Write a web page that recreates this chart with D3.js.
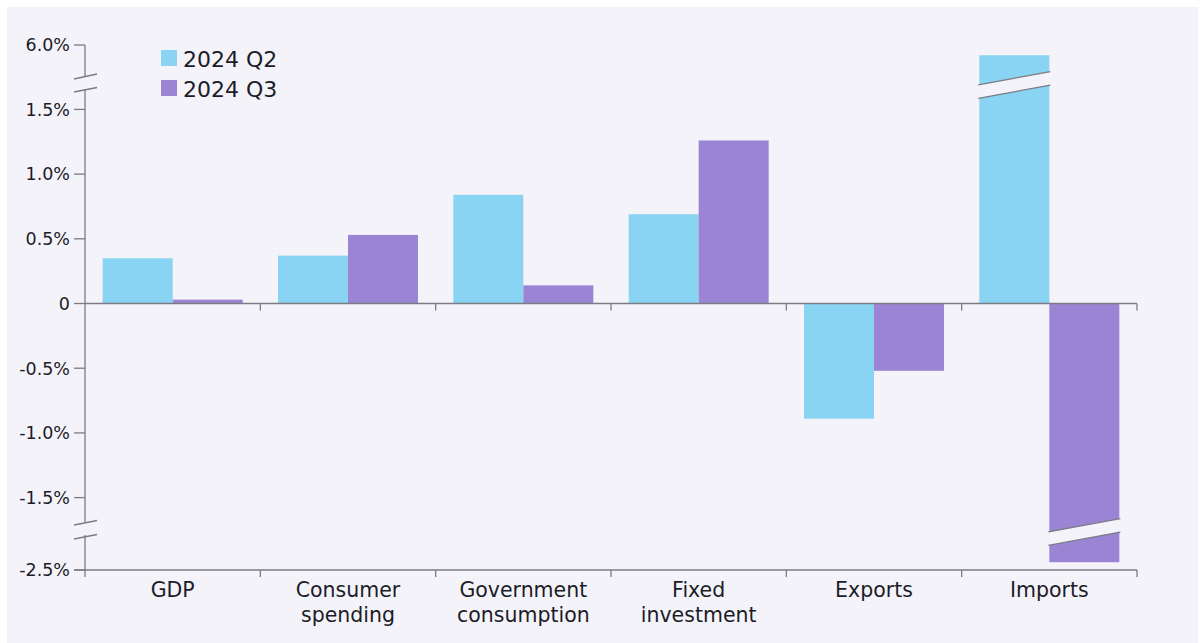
<!DOCTYPE html>
<html>
<head>
<meta charset="utf-8">
<script src="https://cdn.jsdelivr.net/npm/d3@7"></script>
<style>
  html, body { margin: 0; padding: 0; background: #ffffff; }
  svg { display: block; }
  text { font-family: "DejaVu Sans", "Noto Sans", sans-serif; fill: #1c1c28; }
</style>
</head>
<body>
<svg id="chart" width="1204" height="643"></svg>
<script>
// Quarterly change by expenditure component (%)
const categories = [["GDP"], ["Consumer", "spending"], ["Government", "consumption"], ["Fixed", "investment"], ["Exports"], ["Imports"]];
const seriesNames = ["2024 Q2", "2024 Q3"];
const q2Values = [0.35, 0.37, 0.84, 0.69, -0.89, 5.92];
const q3Values = [0.03, 0.53, 0.14, 1.26, -0.52, -2.44];
const tickValues = [6.0, 1.5, 1.0, 0.5, 0, -0.5, -1.0, -1.5, -2.5];
const tickLabels = ["6.0%", "1.5%", "1.0%", "0.5%", "0", "-0.5%", "-1.0%", "-1.5%", "-2.5%"];
const colors = ["#89d4f2", "#9b84d4"];

const svg = d3.select("#chart");
const W = 1204, H = 643;
const bg = "#f4f3f9";
const axisColor = "#7b7b84";

svg.append("rect").attr("x", 7).attr("y", 7).attr("width", 1191).attr("height", H - 7).attr("fill", bg);

const left = 85, right = 1137;

// Broken value axis: the main segment runs -1.67..1.65, with short
// segments above (near 6%) and below (near -2.5%) at the same pixel scale.
const y = d3.scaleLinear()
  .domain([-2.5, -2.245, -1.673, 1.65, 5.75, 6.0])
  .range([570, 537, 520, 90, 77, 45]);

const x0 = d3.scaleBand()
  .domain(d3.range(categories.length))
  .range([left, right])
  .paddingInner(0)
  .paddingOuter(0);

const barW = 70;
const x1 = d3.scaleBand().domain([0, 1]).range([0, barW * 2]);
const offset = (x0.bandwidth() - barW * 2) / 2;

const rows = categories.map((c, i) => ({ i, vals: [q2Values[i], q3Values[i]] }));

const groups = svg.append("g").selectAll("g").data(rows).join("g")
  .attr("transform", d => `translate(${x0(d.i) + offset},0)`);

groups.selectAll("rect").data(d => d.vals.map((v, s) => ({ v, s }))).join("rect")
  .attr("x", d => x1(d.s))
  .attr("width", x1.bandwidth())
  .attr("y", d => Math.min(y(d.v), y(0)))
  .attr("height", d => Math.abs(y(d.v) - y(0)))
  .attr("fill", d => colors[d.s]);

// Break bands across bars that leave the main segment
function breakBand(g, xa, xb, yc, slope, gap) {
  const dy = slope * (xb - xa);
  const top = yc - gap / 2, bot = yc + gap / 2;
  g.append("path")
    .attr("d", `M${xa},${top + dy / 2}L${xb},${top - dy / 2}L${xb},${bot - dy / 2}L${xa},${bot + dy / 2}Z`)
    .attr("fill", bg);
  [top, bot].forEach(t => {
    g.append("line")
      .attr("x1", xa).attr("y1", t + dy / 2)
      .attr("x2", xb).attr("y2", t - dy / 2)
      .attr("stroke", axisColor).attr("stroke-width", 1.3);
  });
}

const breaks = svg.append("g");
rows.forEach(d => {
  d.vals.forEach((v, s) => {
    const xa = x0(d.i) + offset + x1(s), xb = xa + x1.bandwidth();
    if (v > 1.65) breakBand(breaks, xa - 1, xb + 1, y(1.65) - 5, 0.186, 13.5);
    if (v < -1.673) breakBand(breaks, xa - 1, xb + 1, y(-1.673) + 12, 0.186, 13.5);
  });
});

// Y axis with break marks
const axisG = svg.append("g");
const segs = [[45, 77], [89, 522], [535, 577]];
segs.forEach(s => axisG.append("line")
  .attr("x1", left).attr("x2", left).attr("y1", s[0]).attr("y2", s[1])
  .attr("stroke", axisColor).attr("stroke-width", 1.3));
[[79, 74], [92, 87.5], [525, 520.5], [539, 534.5]].forEach(m => axisG.append("line")
  .attr("x1", 74).attr("y1", m[0]).attr("x2", 97).attr("y2", m[1])
  .attr("stroke", axisColor).attr("stroke-width", 1.3));

tickValues.forEach((t, k) => {
  axisG.append("line")
    .attr("x1", 74).attr("x2", left).attr("y1", y(t)).attr("y2", y(t))
    .attr("stroke", axisColor).attr("stroke-width", 1.3);
  axisG.append("text")
    .attr("x", 70).attr("y", y(t)).attr("dy", "0.36em")
    .attr("text-anchor", "end").attr("font-size", 17.5)
    .text(tickLabels[k]);
});

// Zero line and bottom category axis
[y(0), y(-2.5)].forEach((yy, k) => {
  axisG.append("line")
    .attr("x1", k ? 74 : left).attr("x2", right).attr("y1", yy).attr("y2", yy)
    .attr("stroke", axisColor).attr("stroke-width", 1.5);
  d3.range(1, categories.length + 1).forEach(i => {
    const xx = i < categories.length ? x0(i) : right;
    axisG.append("line")
      .attr("x1", xx).attr("x2", xx).attr("y1", yy).attr("y2", yy + 7)
      .attr("stroke", axisColor).attr("stroke-width", 1.3);
  });
});

const labels = svg.append("g").selectAll("text").data(categories).join("text")
  .attr("x", (d, i) => x0(i) + x0.bandwidth() / 2)
  .attr("y", 597)
  .attr("text-anchor", "middle")
  .attr("font-size", 20.5);
labels.selectAll("tspan").data(d => d).join("tspan")
  .attr("x", function () { return this.parentNode.getAttribute("x"); })
  .attr("dy", (d, i) => i ? 25 : 0)
  .text(d => d);

// Legend
const leg = svg.append("g").selectAll("g").data(seriesNames).join("g")
  .attr("transform", (d, i) => `translate(161,${50 + i * 30})`);
leg.append("rect").attr("width", 16).attr("height", 16).attr("fill", (d, i) => colors[i]);
leg.append("text").attr("x", 22).attr("y", 16.5).attr("font-size", 22).text(d => d);
</script>
</body>
</html>
